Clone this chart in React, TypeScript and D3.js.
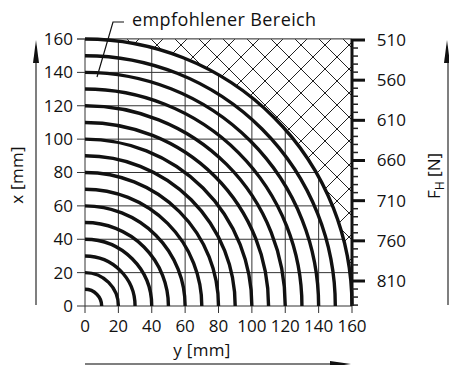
import React from "react";
import * as d3 from "d3";

const radii = [10, 20, 30, 40, 50, 60, 70, 80, 90, 100, 110, 120, 130, 140, 150, 160];
const mmTicks = [0, 20, 40, 60, 80, 100, 120, 140, 160];
const forceTicks = [510, 560, 610, 660, 710, 760, 810];
const forceMinor = [520, 530, 540, 550, 570, 580, 590, 600, 620, 630, 640, 650, 670, 680, 690, 700, 720, 730, 740, 750, 770, 780, 790, 800, 820, 830, 840];
const labelText = "empfohlener Bereich";

const W = 449, H = 365;
const FONT = "'Open Sans', sans-serif";

export default function App() {
  const x = d3.scaleLinear().domain([0, 160]).range([85, 352]);
  const y = d3.scaleLinear().domain([0, 160]).range([306, 39]);
  const fh = d3.scaleLinear().domain([510, 810]).range([40, 281]);
  const x0 = x(0), y0 = y(0);
  const xMax = x(160), yMax = y(160);

  const arcPath = (r: number) => {
    const p = d3.path();
    const R = x(r) - x0;
    p.arc(x0, y0, R, -Math.PI / 2, 0);
    return p.toString();
  };

  const Rmax = x(160) - x0;
  const hatch = d3.path();
  hatch.moveTo(x0, y0 - Rmax);
  hatch.lineTo(xMax, yMax);
  hatch.lineTo(xMax, y0);
  hatch.arc(x0, y0, Rmax, 0, -Math.PI / 2, true);
  hatch.closePath();

  return (
    <svg width={W} height={H} style={{ position: "absolute", left: 0, top: 0, background: "#fff" }}
      fontFamily={FONT}>
      <defs>
        <pattern id="cross" patternUnits="userSpaceOnUse" width={24} height={24} x={13} y={21}>
          <path d="M0,0L24,24M0,24L24,0" stroke="#222" strokeWidth={1} />
        </pattern>
      </defs>

      {/* grid */}
      {mmTicks.map((t) => (
        <line key={"v" + t} x1={x(t)} x2={x(t)} y1={yMax} y2={y0 + 7} stroke="#333" strokeWidth={1} />
      ))}
      {mmTicks.map((t) => (
        <line key={"h" + t} x1={x0 - 8} x2={xMax} y1={y(t)} y2={y(t)} stroke="#333" strokeWidth={1} />
      ))}

      <path d={hatch.toString()} fill="#fff" stroke="none" />
      <path d={hatch.toString()} fill="url(#cross)" stroke="none" />
      <line x1={x0 - 8} x2={xMax} y1={yMax} y2={yMax} stroke="#555" strokeWidth={1} />

      {/* arcs */}
      {radii.map((r) => (
        <path key={r} d={arcPath(r)} fill="none" stroke="#111" strokeWidth={3.4} />
      ))}

      {/* right force axis */}
      <line x1={xMax} x2={xMax} y1={yMax} y2={y0} stroke="#111" strokeWidth={3} />
      {forceMinor.map((f) => (
        <line key={"m" + f} x1={xMax} x2={xMax + 6} y1={fh(f)} y2={fh(f)} stroke="#222" strokeWidth={1.5} />
      ))}
      {forceTicks.map((f) => (
        <line key={"M" + f} x1={xMax} x2={xMax + 13} y1={fh(f)} y2={fh(f)} stroke="#111" strokeWidth={3} />
      ))}
      {forceTicks.map((f) => (
        <text key={"ft" + f} x={406} y={fh(f)} dy="0.35em" textAnchor="end" fontSize={17} fill="#111">{f}</text>
      ))}

      {/* left tick labels */}
      {mmTicks.map((t) => (
        <text key={"lt" + t} x={73} y={y(t)} dy="0.35em" textAnchor="end" fontSize={17} fill="#111">{t}</text>
      ))}
      {mmTicks.map((t) => (
        <text key={"bt" + t} x={x(t)} y={332} textAnchor="middle" fontSize={17} fill="#111">{t}</text>
      ))}

      {/* axis titles */}
      <text x={202} y={356} textAnchor="middle" fontSize={17} letterSpacing={0.3} fill="#111">y [mm]</text>
      <text transform="translate(23,175) rotate(-90)" textAnchor="middle" fontSize={17} letterSpacing={0.3} fill="#111">x [mm]</text>
      <text transform="translate(440,176) rotate(-90)" textAnchor="middle" fontSize={17} fill="#111">
        F<tspan fontSize={12} dy={4}>H</tspan><tspan dy={-4}> [N]</tspan>
      </text>

      {/* arrows */}
      <line x1={36} x2={36} y1={305} y2={55} stroke="#555" strokeWidth={1.5} />
      <path d="M36,40L33,63L39,63Z" fill="#111" />
      <line x1={448} x2={448} y1={305} y2={55} stroke="#555" strokeWidth={1.5} />
      <path d="M447,40L444,63L450,63Z" fill="#111" />
      <line x1={85} x2={335} y1={364} y2={364} stroke="#555" strokeWidth={1.5} />
      <path d="M351,364L330,361L330,367Z" fill="#111" />

      {/* annotation */}
      <path d="M97,77L113,22L124,22" fill="none" stroke="#111" strokeWidth={1.2} />
      <text x={132} y={26} fontSize={18} letterSpacing={0.4} fill="#111">{labelText}</text>
    </svg>
  );
}
